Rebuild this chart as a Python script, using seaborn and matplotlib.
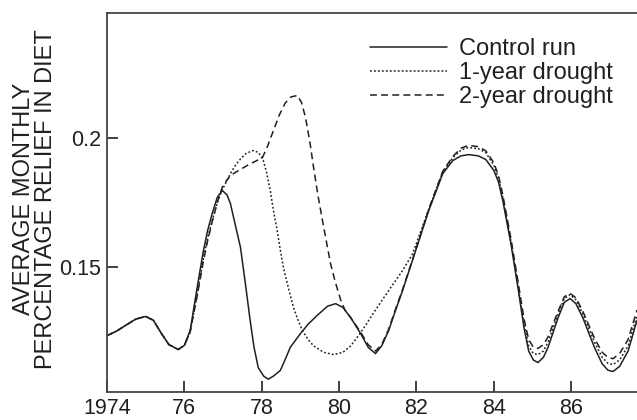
import pandas as pd
import seaborn as sns
import matplotlib
matplotlib.use("Agg")
import matplotlib.pyplot as plt

# values (year as 2-digit, relief as fraction)
years_control = [74.0, 74.25, 74.5, 74.75, 75.0, 75.2, 75.4, 75.6, 75.84, 76.0,
                 76.15, 76.33, 76.49, 76.6, 76.72, 76.85, 76.98, 77.1, 77.19, 77.32,
                 77.45, 77.58, 77.7, 77.8, 77.91, 78.05, 78.17, 78.3, 78.48, 78.6,
                 78.74, 79.0, 79.2, 79.44, 79.7, 79.91, 80.1, 80.3, 80.55, 80.75,
                 80.94, 81.1, 81.28, 81.45, 81.64, 81.98, 82.32, 82.68, 82.94, 83.15,
                 83.35, 83.6, 83.79, 84.0, 84.12, 84.23, 84.44, 84.62, 84.78, 84.9,
                 85.02, 85.14, 85.28, 85.4, 85.66, 85.82, 85.97, 86.12, 86.3, 86.6,
                 86.8, 86.95, 87.08, 87.25, 87.47, 87.7]
control = [0.1230, 0.1248, 0.1272, 0.1295, 0.1305, 0.1290, 0.1240, 0.1195, 0.1176, 0.1192,
           0.1250, 0.1418, 0.1560, 0.1640, 0.1707, 0.1770, 0.1797, 0.1780, 0.1746, 0.1660,
           0.1575, 0.1430, 0.1290, 0.1185, 0.1105, 0.1072, 0.1060, 0.1072, 0.1094, 0.1135,
           0.1185, 0.1238, 0.1275, 0.1310, 0.1345, 0.1355, 0.1340, 0.1300, 0.1240, 0.1185,
           0.1160, 0.1190, 0.1250, 0.1325, 0.1406, 0.1563, 0.1720, 0.1863, 0.1914, 0.1932,
           0.1937, 0.1932, 0.1918, 0.1875, 0.1830, 0.1758, 0.1590, 0.1420, 0.1260, 0.1170,
           0.1135, 0.1125, 0.1145, 0.1184, 0.1300, 0.1360, 0.1375, 0.1355, 0.1300, 0.1184,
           0.1120, 0.1095, 0.1090, 0.1110, 0.1170, 0.1290]

years_1yr = [74.0, 74.25, 74.5, 74.75, 75.0, 75.2, 75.4, 75.6, 75.84, 76.0,
             76.15, 76.33, 76.49, 76.6, 76.72, 76.85, 76.98, 77.1, 77.19, 77.32,
             77.45, 77.6, 77.78, 77.92, 78.04, 78.12, 78.22, 78.3, 78.4, 78.48,
             78.56, 78.7, 78.82, 78.94, 79.05, 79.2, 79.34, 79.6, 79.86, 80.1,
             80.3, 80.55, 80.94, 81.28, 81.64, 81.9, 82.32, 82.68, 82.94, 83.15,
             83.35, 83.6, 83.79, 84.0, 84.12, 84.23, 84.44, 84.62, 84.78, 84.9,
             85.02, 85.14, 85.28, 85.4, 85.66, 85.82, 85.97, 86.12, 86.3, 86.6,
             86.8, 86.95, 87.08, 87.25, 87.47, 87.7]
drought_1yr = [0.1230, 0.1248, 0.1272, 0.1295, 0.1305, 0.1290, 0.1240, 0.1195, 0.1176, 0.1192,
               0.1245, 0.1390, 0.1530, 0.1610, 0.1680, 0.1750, 0.1800, 0.1835, 0.1863, 0.1895,
               0.1920, 0.1942, 0.1953, 0.1945, 0.1914, 0.1870, 0.1797, 0.1720, 0.1640, 0.1565,
               0.1496, 0.1410, 0.1340, 0.1290, 0.1250, 0.1215, 0.1190, 0.1165, 0.1156, 0.1165,
               0.1190, 0.1240, 0.1330, 0.1406, 0.1484, 0.1550, 0.1725, 0.1870, 0.1925, 0.1955,
               0.1965, 0.1960, 0.1945, 0.1895, 0.1845, 0.1770, 0.1600, 0.1430, 0.1275, 0.1190,
               0.1160, 0.1156, 0.1170, 0.1205, 0.1315, 0.1375, 0.1390, 0.1370, 0.1315, 0.1205,
               0.1145, 0.1122, 0.1117, 0.1135, 0.1190, 0.1310]

years_2yr = [74.0, 74.25, 74.5, 74.75, 75.0, 75.2, 75.4, 75.6, 75.84, 76.0,
             76.15, 76.33, 76.49, 76.6, 76.72, 76.85, 76.98, 77.1, 77.19, 77.4,
             77.63, 77.85, 78.02, 78.15, 78.3, 78.45, 78.6, 78.75, 78.92, 79.03,
             79.13, 79.24, 79.34, 79.45, 79.57, 79.68, 79.78, 79.9, 80.04, 80.15,
             80.3, 80.55, 80.75, 80.94, 81.1, 81.28, 81.45, 81.64, 81.98, 82.32,
             82.68, 82.94, 83.15, 83.35, 83.6, 83.79, 84.0, 84.12, 84.23, 84.44,
             84.62, 84.78, 84.9, 85.02, 85.14, 85.28, 85.4, 85.66, 85.82, 85.97,
             86.12, 86.3, 86.6, 86.8, 86.95, 87.08, 87.25, 87.47, 87.7]
drought_2yr = [0.1230, 0.1248, 0.1272, 0.1295, 0.1305, 0.1290, 0.1240, 0.1195, 0.1176, 0.1192,
               0.1245, 0.1385, 0.1520, 0.1600, 0.1675, 0.1750, 0.1810, 0.1838, 0.1855, 0.1875,
               0.1895, 0.1912, 0.1926, 0.1970, 0.2030, 0.2090, 0.2137, 0.2162, 0.2168, 0.2140,
               0.2082, 0.1990, 0.1887, 0.1780, 0.1680, 0.1590, 0.1510, 0.1440, 0.1370, 0.1330,
               0.1300, 0.1245, 0.1195, 0.1170, 0.1195, 0.1255, 0.1330, 0.1410, 0.1565, 0.1725,
               0.1872, 0.1930, 0.1962, 0.1973, 0.1968, 0.1952, 0.1905, 0.1855, 0.1780, 0.1610,
               0.1445, 0.1295, 0.1215, 0.1185, 0.1180, 0.1195, 0.1225, 0.1325, 0.1382, 0.1395,
               0.1378, 0.1325, 0.1220, 0.1165, 0.1145, 0.1140, 0.1160, 0.1215, 0.1330]

run_names = ["Control run", "1-year drought", "2-year drought"]
tick_years = [74, 76, 78, 80, 82, 84, 86]
tick_labels = ["1974", "76", "78", "80", "82", "84", "86"]
y_ticks = [0.15, 0.2]
y_tick_labels = ["0.15", "0.2"]

ink = "#231f20"

df = pd.concat([
    pd.DataFrame({"Year": years_control, "Relief": control, "Run": run_names[0]}),
    pd.DataFrame({"Year": years_1yr, "Relief": drought_1yr, "Run": run_names[1]}),
    pd.DataFrame({"Year": years_2yr, "Relief": drought_2yr, "Run": run_names[2]}),
], ignore_index=True)

sns.set_theme(style="ticks")
plt.rcParams["font.family"] = ["Liberation Sans", "DejaVu Sans"]

fig = plt.figure(figsize=(6.37, 4.2), dpi=100)
ax = fig.add_axes([107 / 637, 1 - 392 / 420, 1 - 107 / 637, (392 - 13) / 420])

g = sns.lineplot(data=df, x="Year", y="Relief", style="Run", style_order=run_names,
                 dashes={run_names[0]: "", run_names[1]: (1.2, 1.4), run_names[2]: (4.5, 2.8)},
                 color=ink, linewidth=1.1, estimator=None, ax=ax)

ax.set_xlim(74, 87.7)
ax.set_ylim(0.101, 0.249)
ax.set_xticks(tick_years)
ax.set_xticklabels(tick_labels)
ax.set_yticks(y_ticks)
ax.set_yticklabels(y_tick_labels)
ax.tick_params(direction="in", length=8, width=1.2, color=ink, labelcolor=ink,
               labelsize=15.5, pad=4)
ax.set_xlabel("")
ax.set_ylabel("")
for side in ["left", "bottom", "top"]:
    ax.spines[side].set_color("#444444")
    ax.spines[side].set_linewidth(1.3)
ax.spines["right"].set_visible(False)

fig.text(35 / 637, 1 - 199 / 420, "AVERAGE MONTHLY\nPERCENTAGE RELIEF IN DIET",
         rotation=90, ha="center", va="center", fontsize=17, color=ink,
         linespacing=0.95, multialignment="center")

leg = ax.legend(loc="upper left", bbox_to_anchor=(370 / 637, 1 - 38 / 420),
                bbox_transform=fig.transFigure, frameon=False, fontsize=17,
                handlelength=3.26, handletextpad=0.5, labelspacing=0.09,
                borderpad=0, borderaxespad=0)
for t in leg.get_texts():
    t.set_color(ink)

fig.savefig("out.png", dpi=100)
